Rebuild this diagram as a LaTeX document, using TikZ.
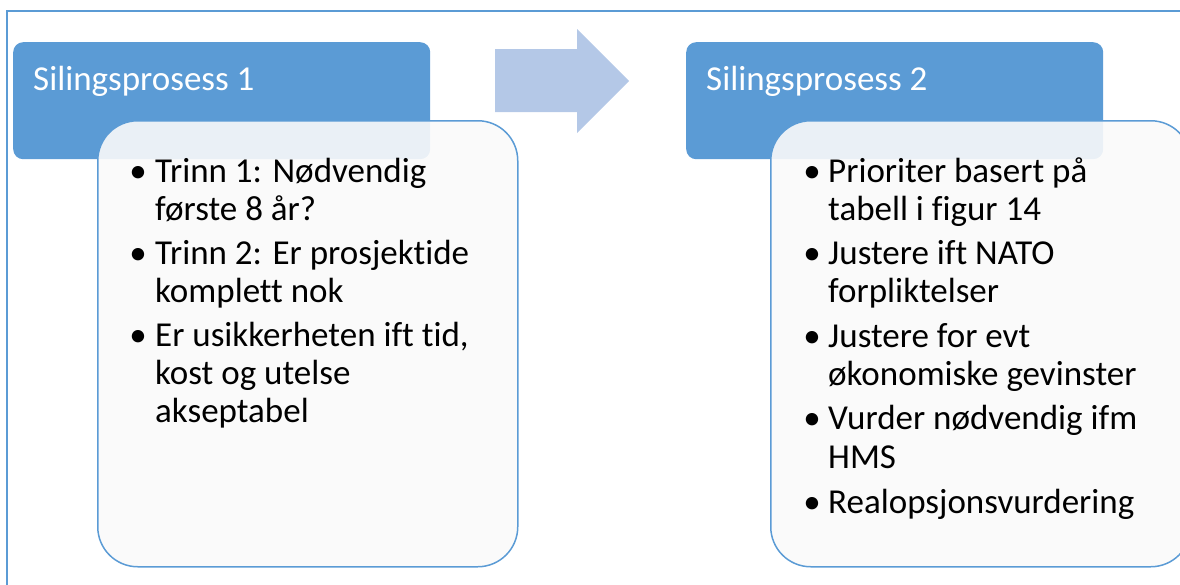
\documentclass[tikz,border=0pt]{standalone}
\usepackage{fontspec}
\setmainfont{Carlito}[Ligatures={NoCommon}]
\definecolor{accent}{HTML}{5B9BD5}
\definecolor{arrowc}{HTML}{B4C8E7}
\definecolor{cardfill}{HTML}{FAFAFA}
\begin{document}
\begin{tikzpicture}[x=1pt,y=-1pt,
  header/.style={fill=accent, draw=none, rounded corners=10pt, anchor=north west, inner sep=0pt},
  card/.style={draw=accent, line width=1.5pt, fill=cardfill, fill opacity=0.9, rounded corners=40pt, anchor=north west, inner sep=0pt},
  title/.style={text=white, anchor=base west, inner sep=0pt, font=\fontsize{35}{42}\selectfont},
  line/.style={text=black, anchor=base west, inner sep=0pt, font=\fontsize{35}{42}\selectfont},
  bul/.style={text=black, anchor=base, inner sep=0pt, font=\fontsize{35}{42}\selectfont}]
\useasboundingbox (0,0) rectangle (1180,584);
\begin{scope}
\clip (0,0) rectangle (1180,584);
\draw[accent, line width=2pt] (7,700) -- (7,10.5) -- (1300,10.5);
% headers
\node[header, minimum width=417pt, minimum height=117pt] (h1) at (13,42) {};
\node[header, minimum width=417pt, minimum height=117pt] (h2) at (686,42) {};
% arrow
\fill[arrowc] (495,49) -- (577,49) -- (577,29) -- (629,81) -- (577,133) -- (577,112) -- (495,112) -- cycle;
% cards
\node[card, minimum width=420pt, minimum height=446pt] (c1) at (97,120) {};
\node[card, minimum width=420pt, minimum height=446pt] (c2) at (770,120) {};
% titles
\node[title] (t1) at (33,90) {Silingsprosess 1};
\node[title] (t2) at (706,90) {Silingsprosess 2};
% left list
\node[bul] (lb1) at (138,182) {•};
\node[line] (l1) at (155,182) {Trinn 1: Nødvendig};
\node[line] (l2) at (155,220.5) {første 8 år?};
\node[bul] (lb2) at (138,264) {•};
\node[line] (l3) at (155,264) {Trinn 2: Er prosjektide};
\node[line] (l4) at (155,302) {komplett nok};
\node[bul] (lb3) at (138,346) {•};
\node[line] (l5) at (155,346) {Er usikkerheten ift tid,};
\node[line] (l6) at (155,384) {kost og utelse};
\node[line] (l7) at (155,422) {akseptabel};
% right list
\node[bul] (rb1) at (812,182) {•};
\node[line] (r1) at (828,182) {Prioriter basert på};
\node[line] (r2) at (828,220.5) {tabell i figur 14};
\node[bul] (rb2) at (812,264) {•};
\node[line] (r3) at (828,264) {Justere ift NATO};
\node[line] (r4) at (828,302) {forpliktelser};
\node[bul] (rb3) at (812,347) {•};
\node[line] (r5) at (828,347) {Justere for evt};
\node[line] (r6) at (828,385.5) {økonomiske gevinster};
\node[bul] (rb4) at (812,429) {•};
\node[line] (r7) at (828,429) {Vurder nødvendig ifm};
\node[line] (r8) at (828,468) {HMS};
\node[bul] (rb5) at (812,513) {•};
\node[line] (r9) at (828,513) {Realopsjonsvurdering};
\end{scope}
\end{tikzpicture}
\end{document}
